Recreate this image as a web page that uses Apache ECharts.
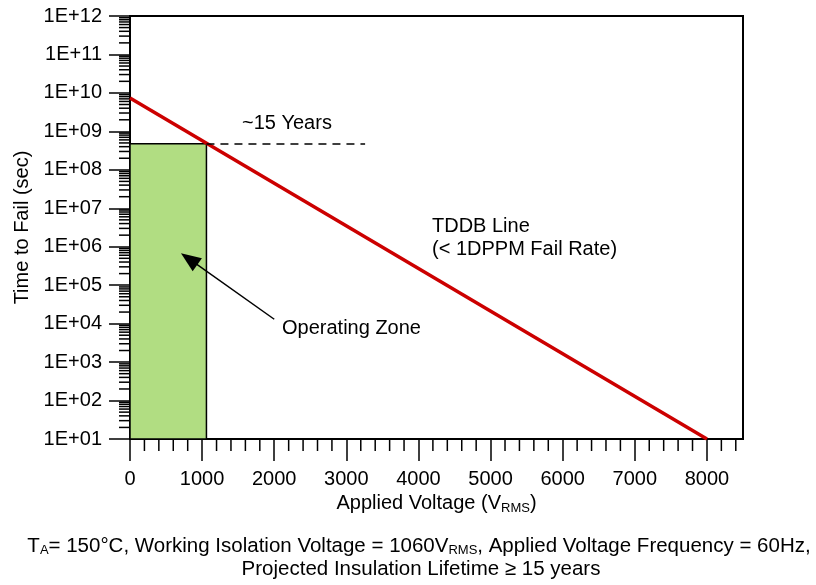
<!DOCTYPE html>
<html>
<head>
<meta charset="utf-8">
<script src="https://cdn.jsdelivr.net/npm/echarts@6/dist/echarts.min.js"></script>
<style>
  html, body { margin: 0; padding: 0; background: #fff; }
  #chart { width: 816px; height: 585px; }
</style>
</head>
<body>
<div id="chart"></div>
<script>
// TDDB 寿命线端点: [电压 Vrms, 失效时间 s]
const tddbLine = [[0, 7.4e9], [8000, 10]]
// 工作区 (绿色框)
const workingVoltage = 1060
const lifetime15y = 4.73e8
const yearsMarkEnd = 3260
// 箭头 起点 / 终点
const arrowTail = [2000, 1.3e4]
const arrowHead = [820, 4.8e5]

// 刻度
const xTickValues = [0, 1000, 2000, 3000, 4000, 5000, 6000, 7000, 8000]
const xMinorValues = [200, 400, 600, 800, 1200, 1400, 1600, 1800, 2200, 2400, 2600, 2800,
  3200, 3400, 3600, 3800, 4200, 4400, 4600, 4800, 5200, 5400, 5600, 5800,
  6200, 6400, 6600, 6800, 7200, 7400, 7600, 7800, 8200, 8400]
const yDecades = [1, 2, 3, 4, 5, 6, 7, 8, 9, 10, 11, 12]
const yTickLabels = ['1E+01', '1E+02', '1E+03', '1E+04', '1E+05', '1E+06',
  '1E+07', '1E+08', '1E+09', '1E+10', '1E+11', '1E+12']
const yMinorMantissa = [2, 3, 4, 5, 6, 7, 8, 9]
const yMinorValues = []
for (const d of yDecades.slice(0, -1)) {
  for (const m of yMinorMantissa) yMinorValues.push(m * Math.pow(10, d))
}

const FONT = "'Liberation Sans', Arial, sans-serif"
const FS = 20
const chart = echarts.init(document.getElementById('chart'))

const option = {
  animation: false,
  textStyle: { fontFamily: FONT, color: '#000' },
  grid: {
    left: 130, right: 73, top: 16, bottom: 146,
    containLabel: false,
    outerBoundsMode: 'none',
    show: true, borderColor: '#000', borderWidth: 2, backgroundColor: 'transparent'
  },
  xAxis: {
    type: 'value',
    min: 0,
    max: 8500,
    interval: 1000,
    name: '{n|Applied Voltage (V}{s|RMS}{n|)}',
    nameLocation: 'middle',
    nameGap: 52,
    nameTextStyle: {
      rich: {
        n: { fontSize: FS, fontFamily: FONT, color: '#000', lineHeight: 22 },
        s: { fontSize: 13, fontFamily: FONT, color: '#000', lineHeight: 10, verticalAlign: 'bottom' }
      }
    },
    axisLine: { show: true, lineStyle: { color: '#000', width: 2 } },
    axisTick: { show: true, customValues: xTickValues, length: 22, lineStyle: { color: '#000', width: 1.5 } },
    axisLabel: {
      customValues: xTickValues, fontSize: FS, fontFamily: FONT, color: '#000', margin: 30,
      formatter: v => String(v)
    },
    splitLine: { show: false }
  },
  yAxis: [
    {
      // 对数坐标, 用于绘制数据
      type: 'log',
      logBase: 10,
      position: 'left',
      min: 10,
      max: 1e12,
      axisLine: { show: true, lineStyle: { color: '#000', width: 2 } },
      axisTick: { show: false },
      axisLabel: { show: false },
      splitLine: { show: false }
    },
    {
      // 十进制指数刻度与标签
      type: 'value',
      position: 'left',
      offset: 0,
      min: 1,
      max: 12,
      interval: 1,
      name: 'Time to Fail (sec)',
      nameLocation: 'middle',
      nameGap: 98,
      nameTextStyle: { fontSize: FS, fontFamily: FONT, color: '#000' },
      axisLine: { show: false },
      axisTick: { show: true, length: 21, lineStyle: { color: '#000', width: 1.5 } },
      axisLabel: {
        fontSize: FS, fontFamily: FONT, color: '#000', margin: 28,
        formatter: v => yTickLabels[Math.round(v) - 1]
      },
      splitLine: { show: false }
    }
  ],
  series: [
    {
      // 工作区
      type: 'custom',
      name: 'Operating Zone',
      yAxisIndex: 0,
      z: 1,
      silent: true,
      data: [[0, 10, workingVoltage, lifetime15y]],
      renderItem: (params, api) => {
        const p1 = api.coord([api.value(0), api.value(1)])
        const p2 = api.coord([api.value(2), api.value(3)])
        return {
          type: 'rect',
          shape: { x: p1[0], y: p2[1], width: p2[0] - p1[0], height: p1[1] - p2[1] },
          style: { fill: '#b1dd82', stroke: '#000', lineWidth: 1.5 }
        }
      }
    },
    {
      type: 'line',
      name: 'TDDB Line',
      yAxisIndex: 0,
      z: 3,
      data: tddbLine,
      symbol: 'none',
      lineStyle: { color: '#cc0000', width: 3.5 },
      markLine: {
        silent: true,
        animation: false,
        label: { show: false },
        symbol: ['none', 'none'],
        data: [
          [
            { coord: [workingVoltage, lifetime15y], lineStyle: { color: '#000', width: 1.5, type: [8, 6] } },
            { coord: [yearsMarkEnd, lifetime15y] }
          ],
          [
            { coord: arrowTail, symbol: 'none', lineStyle: { color: '#000', width: 1.5, type: 'solid' } },
            { coord: arrowHead, symbol: 'triangle', symbolSize: [16, 20], itemStyle: { color: '#000' } }
          ]
        ]
      }
    },
    {
      // y 轴次刻度
      type: 'custom',
      yAxisIndex: 0,
      silent: true,
      clip: false,
      data: yMinorValues.map(v => [0, v]),
      renderItem: (params, api) => {
        const p = api.coord([api.value(0), api.value(1)])
        return {
          type: 'line',
          shape: { x1: p[0] - 11, y1: p[1], x2: p[0], y2: p[1] },
          style: { stroke: '#000', lineWidth: 1.5 }
        }
      }
    },
    {
      // x 轴次刻度
      type: 'custom',
      yAxisIndex: 0,
      silent: true,
      clip: false,
      data: xMinorValues.map(v => [v, 10]),
      renderItem: (params, api) => {
        const p = api.coord([api.value(0), api.value(1)])
        return {
          type: 'line',
          shape: { x1: p[0], y1: p[1], x2: p[0], y2: p[1] + 12 },
          style: { stroke: '#000', lineWidth: 1.5 }
        }
      }
    }
  ],
  graphic: [
    { type: 'text', left: 242, top: 113, style: { text: '~15 Years', font: FS + 'px ' + FONT, fill: '#000' } },
    { type: 'text', left: 432, top: 216, style: { text: 'TDDB Line', font: FS + 'px ' + FONT, fill: '#000' } },
    { type: 'text', left: 432, top: 239, style: { text: '(< 1DPPM Fail Rate)', font: FS + 'px ' + FONT, fill: '#000' } },
    { type: 'text', left: 282, top: 318, style: { text: 'Operating Zone', font: FS + 'px ' + FONT, fill: '#000' } },
    {
      type: 'text', x: 419, y: 546,
      style: {
        text: '{n|T}{s|A}{n|= 150°C, Working Isolation Voltage = 1060V}{s|RMS}{n|, Applied Voltage Frequency = 60Hz,}',
        align: 'center', verticalAlign: 'middle',
        rich: {
          n: { fontSize: 20.5, fontFamily: FONT, fill: '#000', lineHeight: 22 },
          s: { fontSize: 13, fontFamily: FONT, fill: '#000', lineHeight: 10, verticalAlign: 'bottom' }
        }
      }
    },
    {
      type: 'text', x: 421, y: 569,
      style: {
        text: 'Projected Insulation Lifetime ≥ 15 years', font: '20.5px ' + FONT, fill: '#000',
        align: 'center', verticalAlign: 'middle'
      }
    }
  ]
}

chart.setOption(option)
</script>
</body>
</html>
